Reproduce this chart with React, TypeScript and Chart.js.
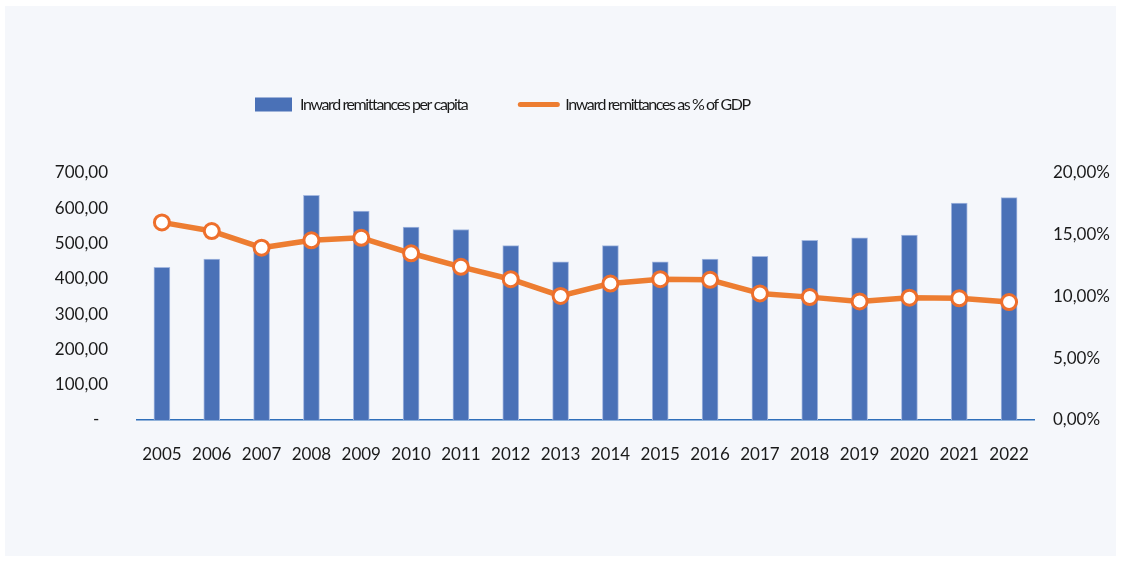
import { useEffect, useRef } from 'react';
import { Chart, registerables } from 'chart.js';

Chart.register(...registerables);

const years = ['2005', '2006', '2007', '2008', '2009', '2010', '2011', '2012', '2013', '2014', '2015', '2016', '2017', '2018', '2019', '2020', '2021', '2022'];
const perCapita = [433, 456, 485, 637, 592, 547, 540, 494, 448, 494, 448, 456, 464, 509, 516, 524, 615, 630];
const pctOfGdp = [16.0, 15.3, 13.95, 14.55, 14.75, 13.5, 12.4, 11.4, 10.05, 11.05, 11.4, 11.35, 10.25, 9.95, 9.6, 9.9, 9.85, 9.55];
const leftTickLabels = ['-  ', '100,00', '200,00', '300,00', '400,00', '500,00', '600,00', '700,00'];
const rightTickLabels = ['0,00%', '5,00%', '10,00%', '15,00%', '20,00%'];
const seriesNames = ['Inward remittances per capita', 'Inward remittances as % of GDP'];

const FONT = 'Lato';
const TEXT = '#1a1a1a';
const LEGEND_PAD = 53;
const LEGEND_FONT = 16;

const legendPlugin = {
  id: 'legendTweak',
  afterInit(chart: any) {
    const lg = chart.legend;
    if (!lg || lg.__patched) return;
    lg.__patched = true;
    const orig = lg.draw.bind(lg);
    lg.draw = (area: any) => {
      const ctx = chart.ctx;
      ctx.save();
      ctx.letterSpacing = '-1.4px';
      orig(area);
      ctx.restore();
    };
  },
  afterLayout(chart: any) {
    const lg = chart.legend;
    if (!lg) return;
    const w = lg.width;
    const h = lg.height;
    lg.left = 250 - LEGEND_PAD;
    lg.right = lg.left + w;
    lg.top = 98.5 - LEGEND_FONT / 2 - LEGEND_PAD;
    lg.bottom = lg.top + h;
  },
};

export default function App() {
  const ref = useRef<HTMLCanvasElement>(null);

  useEffect(() => {
    const chart = new Chart(ref.current as HTMLCanvasElement, {
      type: 'bar',
      data: {
        labels: years,
        datasets: [
          {
            type: 'bar',
            label: seriesNames[0],
            data: perCapita,
            backgroundColor: '#4a71b7',
            borderColor: '#a4b8e0',
            borderWidth: 1,
            barThickness: 16,
            yAxisID: 'y',
            order: 1,
          },
          {
            type: 'line',
            label: seriesNames[1],
            data: pctOfGdp,
            borderColor: '#ED7D31',
            backgroundColor: '#ED7D31',
            borderWidth: 5.5,
            borderCapStyle: 'round',
            borderJoinStyle: 'round',
            pointRadius: 7.5,
            pointBorderWidth: 3,
            pointBackgroundColor: '#ffffff',
            pointBorderColor: '#EE6F2C',
            tension: 0,
            yAxisID: 'y1',
            order: 0,
          },
        ],
      } as any,
      options: {
        responsive: false,
        animation: false,
        layout: { padding: { top: 167 - (LEGEND_FONT + LEGEND_PAD + 10), left: 50, right: 0, bottom: 0 } },
        plugins: {
          tooltip: { enabled: false },
          legend: {
            display: true,
            position: 'top',
            align: 'start',
            labels: {
              usePointStyle: true,
              pointStyleWidth: 37,
              boxHeight: 14,
              padding: LEGEND_PAD,
              color: TEXT,
              font: { family: FONT, size: LEGEND_FONT },
              sort: (a: any, b: any) => a.datasetIndex - b.datasetIndex,
              generateLabels: (c: any) => {
                const items = Chart.defaults.plugins.legend.labels.generateLabels(c);
                items.forEach((it: any) => {
                  if (it.datasetIndex === 0) {
                    it.pointStyle = 'rect';
                    it.lineWidth = 0;
                    it.fillStyle = '#4a71b7';
                  } else {
                    it.pointStyle = 'line';
                    it.lineWidth = 5;
                    it.strokeStyle = '#ED7D31';
                    it.lineCap = 'round';
                  }
                });
                return items;
              },
            },
          },
        },
        scales: {
          x: {
            grid: { display: false, drawTicks: false },
            border: { display: true, color: '#2f6fba', width: 1.5 },
            ticks: { color: TEXT, font: { family: FONT, size: 17 }, padding: 24, maxRotation: 0, autoSkip: false },
            afterFit: (s: any) => { s.height = 136; },
          },
          y: {
            position: 'left',
            min: 0,
            max: 700,
            grid: { display: false, drawTicks: false },
            border: { display: false },
            ticks: {
              stepSize: 100,
              color: TEXT,
              font: { family: FONT, size: 17 },
              padding: 29,
              callback: (_v: any, i: number) => leftTickLabels[i],
            },
            afterFit: (s: any) => { s.width = 82; },
          },
          y1: {
            position: 'right',
            min: 0,
            max: 20,
            grid: { display: false, drawTicks: false },
            border: { display: false },
            ticks: {
              stepSize: 5,
              color: TEXT,
              font: { family: FONT, size: 17 },
              padding: 19,
              callback: (_v: any, i: number) => rightTickLabels[i],
            },
            afterFit: (s: any) => { s.width = 82; },
          },
        },
      } as any,
      plugins: [legendPlugin],
    });
    return () => chart.destroy();
  }, []);

  return (
    <div style={{ position: 'fixed', inset: 0, background: '#ffffff' }}>
      <div style={{ position: 'absolute', left: 5, top: 6, width: 1111, height: 550, background: '#f5f7fb' }}>
        <canvas ref={ref} width={1111} height={550} style={{ display: 'block', width: 1111, height: 550 }} />
      </div>
    </div>
  );
}
